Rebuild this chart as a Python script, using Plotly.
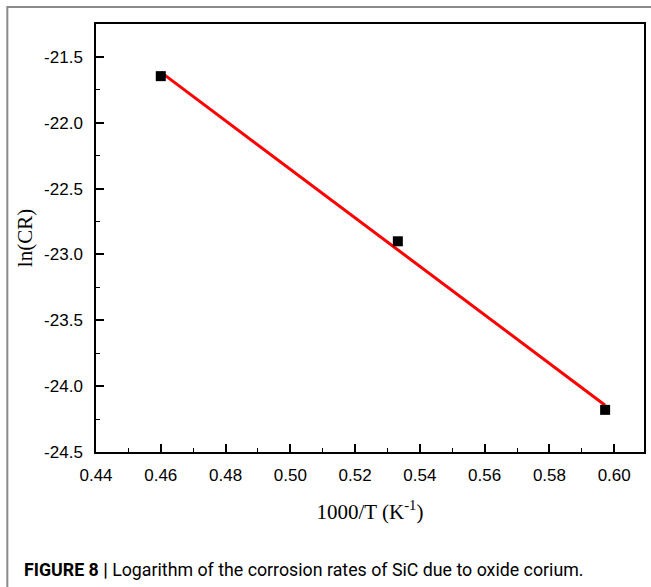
import numpy as np
import plotly.graph_objects as go

# Data
inv_T = [0.46, 0.5332, 0.5972]
ln_cr = [-21.646, -22.90, -24.18]

x_tickvals = [0.44, 0.46, 0.48, 0.50, 0.52, 0.54, 0.56, 0.58, 0.60]
x_ticktext = ["0.44", "0.46", "0.48", "0.50", "0.52", "0.54", "0.56", "0.58", "0.60"]
y_tickvals = [-21.5, -22.0, -22.5, -23.0, -23.5, -24.0, -24.5]
y_ticktext = ["-21.5", "-22.0", "-22.5", "-23.0", "-23.5", "-24.0", "-24.5"]

slope, intercept = np.polyfit(inv_T, ln_cr, 1)
fit_x = [inv_T[0], inv_T[-1]]
fit_y = [slope * v + intercept for v in fit_x]

W, H = 651, 587
L, R, T, B = 96, 5, 24, 135
pw, ph = W - L - R, H - T - B

fig = go.Figure()
fig.add_trace(go.Scatter(x=fit_x, y=fit_y, mode="lines",
                         line=dict(color="#ff0000", width=3), showlegend=False))
fig.add_trace(go.Scatter(x=inv_T, y=ln_cr, mode="markers",
                         marker=dict(symbol="square", size=10, color="black"),
                         showlegend=False))

axis_common = dict(showline=True, linecolor="black", linewidth=1.5, mirror=True,
                   showgrid=False, zeroline=False,
                   tickfont=dict(family="Liberation Sans, Arial", size=17, color="black"))

fig.update_xaxes(range=[0.44, 0.6092], tickvals=x_tickvals, ticktext=x_ticktext,
                 ticks="inside", ticklen=8, tickwidth=1.5, tickcolor="black", ticklabelstandoff=7,
                 minor=dict(ticks="inside", ticklen=4, tickwidth=1.2, tickcolor="black", dtick=0.01, tick0=0.44),
                 title=dict(text="1000/T (K<sup>-1</sup>)", standoff=20,
                            font=dict(family="Liberation Serif, Times New Roman", size=21, color="black")),
                 **axis_common)
fig.update_yaxes(range=[-24.5, -21.25], tickvals=y_tickvals, ticktext=y_ticktext,
                 ticks="inside", ticklen=8, tickwidth=1.5, tickcolor="black", ticklabelstandoff=8,
                 minor=dict(ticks="inside", ticklen=4, tickwidth=1.2, tickcolor="black", dtick=0.25, tick0=-24.5),
                 title=dict(text="ln(CR)", standoff=6,
                            font=dict(family="Liberation Serif, Times New Roman", size=21, color="black")),
                 **axis_common)

# outer frame
fig.add_shape(type="rect", xref="paper", yref="paper",
              x0=(7 - L) / pw, x1=1 + (R + 10) / pw,
              y0=-(B + 20) / ph, y1=1 + (T - 7) / ph,
              line=dict(color="#8a8a8a", width=2), layer="below")

fig.add_annotation(xref="paper", yref="paper", x=(22 - L) / pw, y=-(569 - T - ph) / ph,
                   xanchor="left", yanchor="middle", showarrow=False,
                   text="<b>FIGURE 8 |</b> Logarithm of the corrosion rates of SiC due to oxide corium.",
                   font=dict(family="Roboto, Liberation Sans", size=17.8, color="black"))

fig.update_layout(width=W, height=H, margin=dict(l=L, r=R, t=T, b=B),
                  paper_bgcolor="white", plot_bgcolor="white")

fig.write_html("out.html")
